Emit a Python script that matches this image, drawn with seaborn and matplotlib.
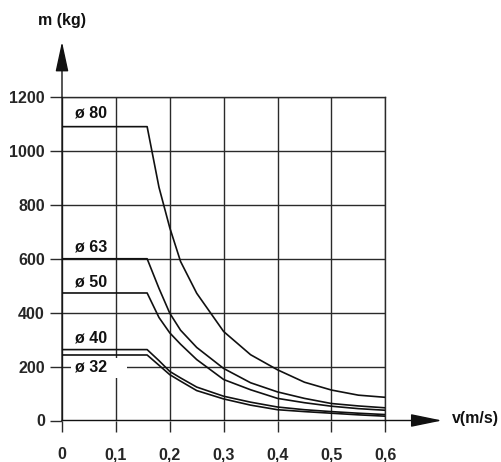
import matplotlib
matplotlib.use("Agg")
import matplotlib.pyplot as plt
import seaborn as sns
import pandas as pd
from matplotlib.patches import Rectangle

# ---- data ----
v = [0, 0.158, 0.18, 0.2, 0.22, 0.25, 0.3, 0.35, 0.4, 0.45, 0.5, 0.55, 0.6]
m_80 = [1090, 1090, 865, 715, 590, 472, 330, 244, 188, 142, 113, 94, 86]
m_63 = [600, 600, 490, 398, 335, 271, 193, 140, 106, 82, 63, 54, 47]
m_50 = [473, 473, 382, 325, 283, 226, 152, 114, 82, 66, 53, 44, 38]
m_40 = [263, 263, 222, 182, 158, 124, 90, 68, 50, 40, 33, 27, 22]
m_32 = [243, 243, 205, 170, 146, 111, 80, 57, 40, 33, 27, 21, 16]
series_names = ["ø 80", "ø 63", "ø 50", "ø 40", "ø 32"]
label_y = [1142, 642, 515, 307, 200]
x_ticks = [0, 0.1, 0.2, 0.3, 0.4, 0.5, 0.6]
x_ticklabels = ["0", "0,1", "0,2", "0,3", "0,4", "0,5", "0,6"]
y_ticks = [0, 200, 400, 600, 800, 1000, 1200]
y_ticklabels = ["0", "200", "400", "600", "800", "1000", "1200"]

rows = []
for name, vals in zip(series_names, [m_80, m_63, m_50, m_40, m_32]):
    for vi, mi in zip(v, vals):
        rows.append({"v": vi, "m": mi, "d": name})
df = pd.DataFrame(rows)

sns.set_style("white")
plt.rcParams["font.family"] = ["Liberation Sans", "DejaVu Sans"]
plt.rcParams["font.weight"] = "bold"

W, H = 502, 462
fig = plt.figure(figsize=(W / 100, H / 100), dpi=100)
x0, x1 = 62, 385.3
y0, y1 = 420.5, 97
ax = fig.add_axes([x0 / W, (H - y0) / H, (x1 - x0) / W, (y0 - y1) / H])

gc = "#2a2a2a"
sns.lineplot(data=df, x="v", y="m", hue="d", palette=["#111111"] * 5,
             legend=False, ax=ax, lw=1.2, zorder=4, estimator=None, sort=False)

ax.set_xlim(0, 0.6)
ax.set_ylim(0, 1200)
ax.set_xticks(x_ticks)
ax.set_xticklabels(x_ticklabels)
ax.set_yticks(y_ticks)
ax.set_yticklabels(y_ticklabels)
ax.set_xlabel("")
ax.set_ylabel("")
ax.grid(True, color=gc, lw=1.0, zorder=1)
ax.set_axisbelow(True)
ax.tick_params(axis="y", direction="out", length=12 * 0.72, width=1.0, color=gc,
               pad=5 * 0.72, labelsize=11.5, left=True)
ax.tick_params(axis="x", direction="out", length=11.5 * 0.72, width=1.0, color=gc,
               pad=15 * 0.72, labelsize=11.5, bottom=True)
for lab in ax.get_xticklabels() + ax.get_yticklabels():
    lab.set_fontweight("bold")

for s in ["top", "right"]:
    ax.spines[s].set_color(gc)
    ax.spines[s].set_linewidth(1.0)
for s in ["left", "bottom"]:
    ax.spines[s].set_visible(False)

# axis arrows
ax.annotate("", xy=(0.7053, 0), xytext=(0, 0), xycoords="data",
            arrowprops=dict(arrowstyle="-|>,head_length=19.4,head_width=4.0",
                            mutation_scale=1, color="#111111", lw=1.0,
                            shrinkA=0, shrinkB=0), annotation_clip=False)
ax.annotate("", xy=(0, 1405), xytext=(0, 0), xycoords="data",
            arrowprops=dict(arrowstyle="-|>,head_length=18.5,head_width=4.0",
                            mutation_scale=1, color="#111111", lw=1.0,
                            shrinkA=0, shrinkB=0), annotation_clip=False)

# white mask behind the ø 32 label
ax.add_patch(Rectangle((0.0167, 158), 0.104, 74, facecolor="white",
                       edgecolor="none", zorder=2))

for name, ly in zip(series_names, label_y):
    ax.text(0.0241, ly, name, ha="left", va="center", fontsize=11.5,
            fontweight="bold", color="#111111", zorder=5)

ax.text(0, 1485, "m (kg)", ha="center", va="center", fontsize=11.5,
        fontweight="bold", color="#111111")
ax.text(0.7238, 8, "v(m/s)", ha="left", va="center", fontsize=11.5,
        fontweight="bold", color="#111111")

fig.savefig("out.png", dpi=100)
